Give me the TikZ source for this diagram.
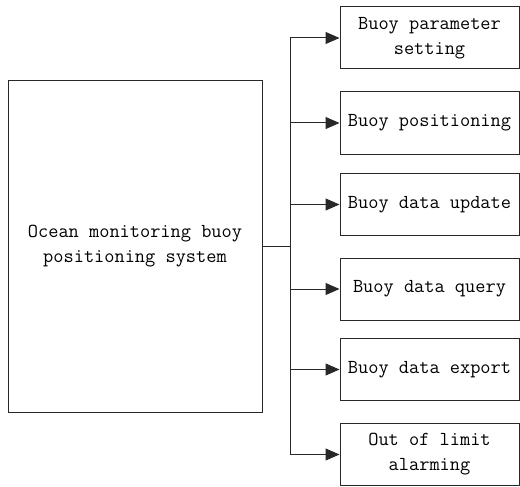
\documentclass[tikz,border=0pt]{standalone}
\usepackage{tikz}
\usetikzlibrary{arrows.meta,positioning}
\definecolor{lineGray}{RGB}{40,40,40}
\tikzstyle{module}=[draw=lineGray, line width=1pt, minimum width=179pt,
                    minimum height=62pt, inner sep=0pt, align=center,
                    font=\fontsize{19.8}{25}\selectfont\ttfamily]
\tikzstyle{system}=[module, minimum width=254pt, minimum height=331pt]
\tikzstyle{link}  =[draw=lineGray, line width=1pt]
\tikzstyle{feed}  =[link, -{Triangle[length=14pt,width=12pt]}]

\begin{document}
\begin{tikzpicture}[x=1pt,y=-1pt]
    \useasboundingbox (0,0) rectangle (520,487);

    \draw (135,246.5) node (sys) [system] {Ocean monitoring buoy\\positioning system};

    \draw (429.5,38) node (m1) [module] {Buoy parameter\\setting};
    \draw (429.5,123) node (m2) [module] {Buoy positioning};
    \draw (429.5,204.5) node (m3) [module] {Buoy data update};
    \draw (429.5,289) node (m4) [module] {Buoy data query};
    \draw (429.5,369.5) node (m5) [module] {Buoy data export};
    \draw (429.5,454.5) node (m6) [module] {Out of limit\\alarming};

    \coordinate (hub) at (290,246.5);
    \draw [link] (sys.east) -- (hub);
    \draw [link] (hub |- m1) -- (hub |- m6);

    \foreach \i in {1,...,6}
        \draw [feed] (hub |- m\i) -- (m\i);
\end{tikzpicture}
\end{document}
